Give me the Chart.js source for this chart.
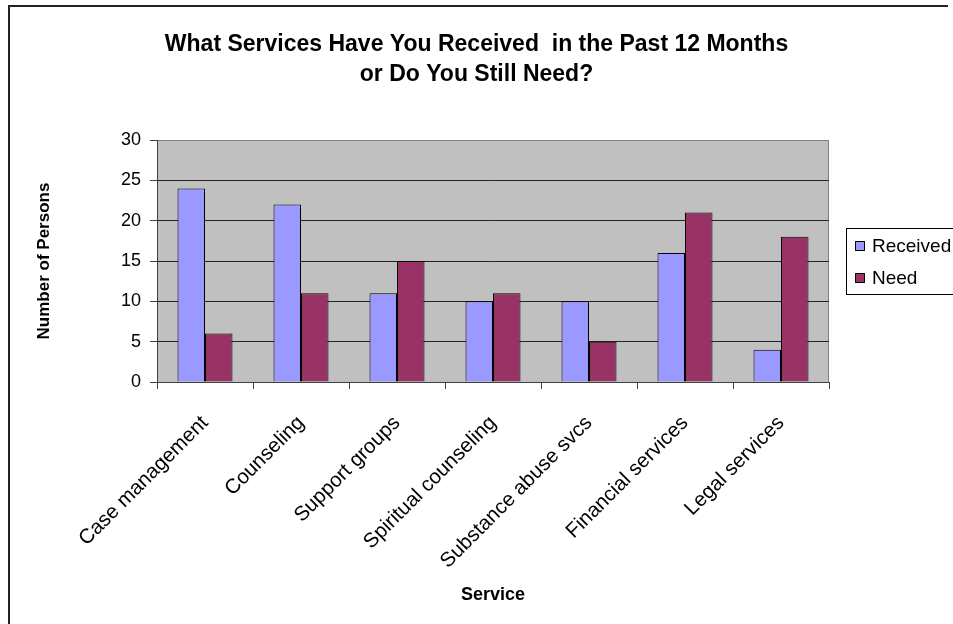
<!DOCTYPE html>
<html>
<head>
<meta charset="utf-8">
<script src="https://cdn.jsdelivr.net/npm/chart.js@4.4.0/dist/chart.umd.min.js"></script>
<style>
  html, body { margin: 0; padding: 0; background: #fff; }
  #wrap { width: 953px; height: 624px; }
</style>
</head>
<body>
<div id="wrap"><canvas id="chart" width="953" height="624"></canvas></div>
<script>
// data
var services = ['Case management', 'Counseling', 'Support groups', 'Spiritual counseling',
  'Substance abuse svcs', 'Financial services', 'Legal services'];
var received = [24, 22, 11, 10, 10, 16, 4];
var need = [6, 11, 15, 11, 5, 21, 18];
var titleLines = ['What Services Have You Received  in the Past 12 Months', 'or Do You Still Need?'];

var FONT = 'Liberation Sans, Arial, sans-serif';

// grey plot area + outer frame lines
var backdrop = {
  id: 'backdrop',
  beforeDraw: function(chart) {
    var c = chart.ctx, a = chart.chartArea;
    c.save();
    c.fillStyle = '#fff';
    c.fillRect(0, 0, chart.width, chart.height);
    c.strokeStyle = '#222';
    c.lineWidth = 2;
    c.beginPath();
    c.moveTo(9, chart.height);
    c.lineTo(9, 6);
    c.lineTo(948, 6);
    c.stroke();
    c.fillStyle = '#c0c0c0';
    c.fillRect(a.left, a.top, a.right - a.left, a.bottom - a.top);
    c.strokeStyle = '#808080';
    c.lineWidth = 1;
    c.strokeRect(a.left + 0.5, a.top + 0.5, a.right - a.left - 1, a.bottom - a.top);
    c.restore();
  }
};

// boxed legend on the right
var boxLegend = {
  id: 'boxLegend',
  afterDraw: function(chart) {
    var c = chart.ctx, a = chart.chartArea;
    var x = a.right + 17;
    var midY = (a.top + a.bottom) / 2;
    var top = midY - 33;
    c.save();
    c.strokeStyle = '#000';
    c.lineWidth = 1;
    c.strokeRect(x + 0.5, top + 0.5, 200, 66);
    c.font = '19px ' + FONT;
    c.textBaseline = 'middle';
    chart.data.datasets.forEach(function(ds, i) {
      var cy = top + 18 + i * 32;
      c.fillStyle = ds.backgroundColor;
      c.fillRect(x + 9, cy - 5, 10, 10);
      c.strokeStyle = '#000';
      c.strokeRect(x + 9.5, cy - 4.5, 9, 9);
      c.fillStyle = '#000';
      c.fillText(ds.label, x + 26, cy + 1);
    });
    c.restore();
  }
};

var ctx = document.getElementById('chart').getContext('2d');
var chart = new Chart(ctx, {
  type: 'bar',
  data: {
    labels: services,
    datasets: [{
      label: 'Received',
      data: received,
      backgroundColor: '#9999ff',
      borderColor: '#000',
      borderWidth: 1,
      categoryPercentage: 0.573,
      barPercentage: 1
    }, {
      label: 'Need',
      data: need,
      backgroundColor: '#993366',
      borderColor: '#000',
      borderWidth: 1,
      categoryPercentage: 0.573,
      barPercentage: 1
    }]
  },
  options: {
    responsive: false,
    animation: false,
    devicePixelRatio: 1,
    layout: { padding: 0 },
    plugins: {
      legend: { display: false },
      tooltip: { enabled: false },
      title: {
        display: true,
        text: titleLines,
        color: '#000',
        font: { family: FONT, size: 23, weight: 'bold', lineHeight: '30px' },
        padding: { top: 30, bottom: 50 }
      }
    },
    scales: {
      x: {
        afterFit: function(s) { s.height = 242; },
        grid: {
          display: true,
          drawOnChartArea: false,
          drawTicks: true,
          tickLength: 7,
          color: '#404040'
        },
        border: { color: '#404040' },
        ticks: {
          autoSkip: false,
          minRotation: 45,
          maxRotation: 45,
          padding: 22,
          color: '#000',
          font: { family: FONT, size: 20.5 }
        },
        title: {
          display: true,
          text: 'Service',
          color: '#000',
          font: { family: FONT, size: 18, weight: 'bold' },
          padding: { top: 0, bottom: 18 }
        }
      },
      y: {
        min: 0,
        max: 30,
        afterFit: function(s) { s.width = 157; },
        grid: {
          tickLength: 7,
          color: function(c) { return c.tick && c.tick.value === 30 ? '#808080' : '#222'; },
          tickColor: '#404040'
        },
        border: { color: '#404040' },
        ticks: {
          stepSize: 5,
          padding: 9,
          color: '#000',
          font: { family: FONT, size: 18 }
        },
        title: {
          display: true,
          text: 'Number of Persons',
          color: '#000',
          font: { family: FONT, size: 17, weight: 'bold' },
          padding: { top: 34, bottom: 0 }
        }
      },
      // empty right-hand box that keeps room for the legend
      side: {
        type: 'linear',
        position: 'right',
        afterFit: function(s) { s.width = 124; },
        grid: { display: false },
        border: { display: false },
        ticks: { display: false }
      }
    }
  },
  plugins: [backdrop, boxLegend]
});
</script>
</body>
</html>
